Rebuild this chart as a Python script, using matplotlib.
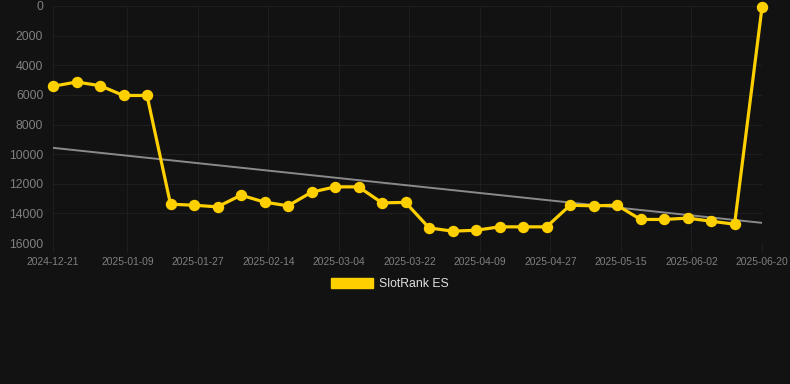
#!/usr/bin/env python3
# SlotRank ES rank history (lower = better, y axis inverted) with linear trend
import numpy as np
import matplotlib
matplotlib.use("Agg")
import matplotlib.pyplot as plt
import matplotlib.dates as mdates
from matplotlib.patches import Patch

dates = ["2024-12-21", "2024-12-27", "2025-01-02", "2025-01-08", "2025-01-14",
         "2025-01-20", "2025-01-26", "2025-02-01", "2025-02-07", "2025-02-13",
         "2025-02-19", "2025-02-25", "2025-03-03", "2025-03-09", "2025-03-15",
         "2025-03-21", "2025-03-27", "2025-04-02", "2025-04-08", "2025-04-14",
         "2025-04-20", "2025-04-26", "2025-05-02", "2025-05-08", "2025-05-14",
         "2025-05-20", "2025-05-26", "2025-06-01", "2025-06-07", "2025-06-13",
         "2025-06-20"]
rank = [5420, 5130, 5380, 6040, 6040,
        13380, 13450, 13560, 12770, 13240,
        13490, 12570, 12210, 12210, 13290,
        13260, 14980, 15200, 15140, 14910,
        14910, 14910, 13450, 13490, 13450,
        14410, 14410, 14320, 14530, 14730,
        90]
trend_dates = ["2024-12-21", "2025-06-20"]
trend_vals = [9575, 14640]
xticks = ["2024-12-21", "2025-01-09", "2025-01-27", "2025-02-14", "2025-03-04",
          "2025-03-22", "2025-04-09", "2025-04-27", "2025-05-15", "2025-06-02",
          "2025-06-20"]
yticks = [0, 2000, 4000, 6000, 8000, 10000, 12000, 14000, 16000]

BG = "#121212"
GRID = "#1e1e1e"
GOLD = "#ffd000"

plt.rcParams["font.family"] = ["Liberation Sans", "DejaVu Sans"]

x = np.array(dates, dtype="datetime64[D]").astype("O")
xt = np.array(trend_dates, dtype="datetime64[D]").astype("O")
xtk = np.array(xticks, dtype="datetime64[D]").astype("O")

fig = plt.figure(figsize=(7.9, 3.84), dpi=100, facecolor=BG)
ax = fig.add_axes([53 / 790, 1 - 243 / 384, 709 / 790, 237 / 384], facecolor=BG)

ax.plot(xt, trend_vals, color="#8a8a8a", lw=1.4, zorder=2)
ax.plot(x, rank, color=GOLD, lw=2.3, marker="o", ms=7.2, mfc=GOLD, mec=GOLD,
        zorder=3, clip_on=False)

ax.set_xlim(xtk[0], xtk[-1])
ax.set_ylim(16000, 0)
ax.set_xticks(xtk)
ax.xaxis.set_major_formatter(mdates.DateFormatter("%Y-%m-%d"))
ax.set_yticks(yticks)
ax.set_yticklabels([str(v) for v in yticks])

ax.grid(True, color=GRID, lw=0.8)
ax.set_axisbelow(True)
for s in ax.spines.values():
    s.set_visible(False)
ax.tick_params(axis="x", colors=GRID, length=7, width=0.8, pad=3,
               labelcolor="#808080", labelsize=7.4)
ax.tick_params(axis="y", colors=GRID, length=0, pad=7,
               labelcolor="#808080", labelsize=8.8)

handle = Patch(facecolor=GOLD, edgecolor=GOLD)
fig.legend([handle], ["SlotRank ES"], loc="center", bbox_to_anchor=(390 / 790, 1 - 284 / 384),
           frameon=False, handlelength=3.4, handleheight=0.95, handletextpad=0.5,
           labelcolor="#e0e0e0", fontsize=8.8)

fig.savefig("out.png", dpi=100, facecolor=BG)
